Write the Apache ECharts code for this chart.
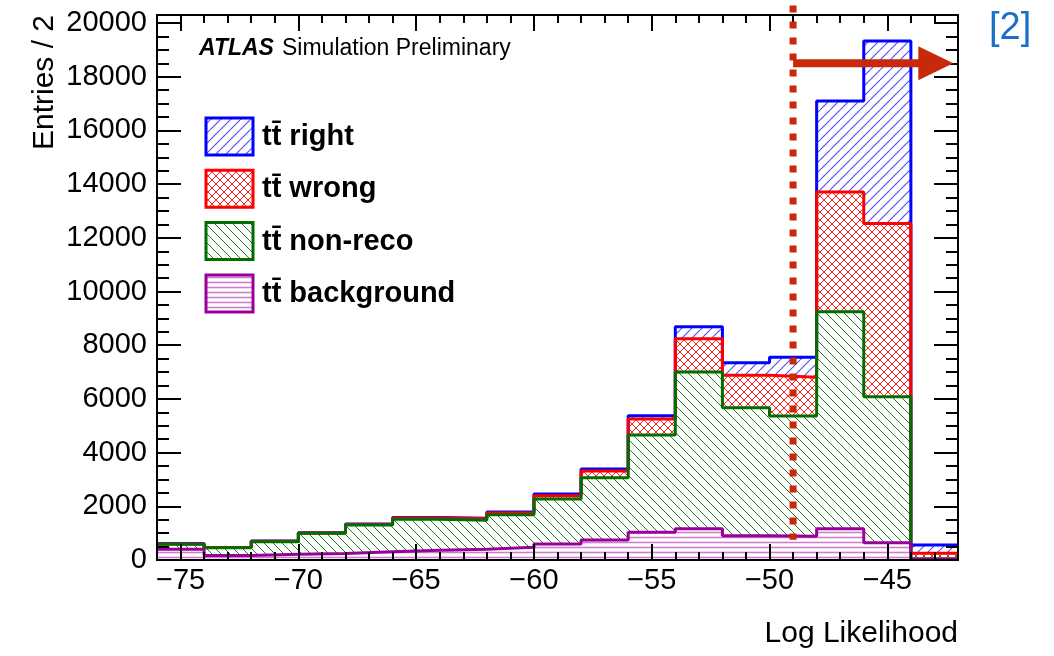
<!DOCTYPE html>
<html>
<head>
<meta charset="utf-8">
<script src="https://cdn.jsdelivr.net/npm/echarts@6/dist/echarts.min.js"></script>
<style>
  html, body { margin: 0; padding: 0; background: #fff; }
  #chart { width: 1054px; height: 656px; }
</style>
</head>
<body>
<div id="chart"></div>
<script>
  // bin edges of Log Likelihood (2 units wide)
  const binEdges = [-76, -74, -72, -70, -68, -66, -64, -62, -60, -58, -56, -54, -52, -50, -48, -46, -44, -42]
  // entries per bin, one array per stacked component
  const ttBackground = [400, 165, 215, 240, 310, 360, 405, 472, 595, 745, 1030, 1164, 904, 880, 1164, 644, 25]
  const ttNonReco = [184, 290, 466, 754, 993, 1158, 1075, 1214, 1675, 2315, 3625, 5837, 4768, 4483, 8083, 5437, 25]
  const ttWrong = [16, 10, 19, 11, 22, 47, 60, 64, 125, 254, 596, 1240, 1206, 1441, 4457, 6449, 200]
  const ttRight = [10, 5, 12, 10, 15, 15, 15, 40, 63, 75, 124, 447, 470, 744, 3389, 6798, 309]
  const legendNames = ['t\u0074\u0304 right', 't\u0074\u0304 wrong', 't\u0074\u0304 non-reco', 't\u0074\u0304 background']
  const cutValue = -49

  const fontFamily = 'Liberation Sans, Arial, sans-serif'

  function makeHatch(kind, color, size, lineWidth) {
    const c = document.createElement('canvas')
    c.width = size
    c.height = size
    const ctx = c.getContext('2d')
    ctx.fillStyle = '#fff'
    ctx.fillRect(0, 0, size, size)
    ctx.strokeStyle = color
    ctx.lineWidth = lineWidth
    ctx.beginPath()
    if (kind === '/' || kind === 'x') {
      for (let k = -size; k <= size; k += size) {
        ctx.moveTo(k, size)
        ctx.lineTo(k + size, 0)
      }
    }
    if (kind === '\\' || kind === 'x') {
      for (let k = -size; k <= size; k += size) {
        ctx.moveTo(k, 0)
        ctx.lineTo(k + size, size)
      }
    }
    if (kind === '-') {
      ctx.moveTo(0, size / 2)
      ctx.lineTo(size, size / 2)
    }
    ctx.stroke()
    return { image: c, repeat: 'repeat' }
  }

  // cumulative sums, like a THStack
  function addUp(a, b) {
    return a.map((v, i) => v + b[i])
  }
  const cumBackground = ttBackground
  const cumNonReco = addUp(cumBackground, ttNonReco)
  const cumWrong = addUp(cumNonReco, ttWrong)
  const cumRight = addUp(cumWrong, ttRight)

  function stepData(values) {
    const data = values.map((v, i) => [binEdges[i], v])
    data.push([binEdges[binEdges.length - 1], values[values.length - 1]])
    return data
  }

  const layers = [
    { name: legendNames[0], values: cumRight, line: '#0000ff', fill: makeHatch('/', '#4a4aff', 10, 1.1) },
    { name: legendNames[1], values: cumWrong, line: '#ff0000', fill: makeHatch('x', '#ff2020', 8, 1) },
    { name: legendNames[2], values: cumNonReco, line: '#006f00', fill: makeHatch('\\', '#1f7f1f', 9, 1) },
    { name: legendNames[3], values: cumBackground, line: '#990099', fill: makeHatch('-', '#cf7fcf', 5, 1.6) },
  ]

  const chart = echarts.init(document.getElementById('chart'))

  function xAxisDef(position, major) {
    return {
      type: 'value',
      position: position,
      min: -76,
      max: -42,
      interval: major ? undefined : 1,
      splitNumber: 7,
      z: 10,
      axisLine: { show: major, onZero: false, lineStyle: { color: '#000', width: 2 } },
      axisTick: { show: true, inside: true, length: major ? 16 : 8, lineStyle: { color: '#000', width: 2 } },
      axisLabel: {
        show: major && position === 'bottom',
        showMinLabel: false,
        showMaxLabel: false,
        margin: 6,
        color: '#000',
        fontSize: 29,
        fontFamily: fontFamily,
        formatter: v => (v < 0 ? '\u2212' + (-v) : '' + v),
      },
      splitLine: { show: false },
    }
  }

  function yAxisDef(position, major) {
    return {
      type: 'value',
      position: position,
      min: 0,
      max: 20300,
      interval: major ? 2000 : 500,
      z: 10,
      axisLine: { show: major, onZero: false, lineStyle: { color: '#000', width: 2 } },
      axisTick: { show: true, inside: true, length: major ? 24 : 12, lineStyle: { color: '#000', width: 2 } },
      axisLabel: {
        show: major && position === 'left',
        showMaxLabel: false,
        margin: 10,
        color: '#000',
        fontSize: 29,
        fontFamily: fontFamily,
        formatter: v => '' + v,
      },
      splitLine: { show: false },
    }
  }

  chart.setOption({
    animation: false,
    backgroundColor: '#fff',
    grid: { left: 157, right: 96, top: 15, bottom: 96 },
    xAxis: [xAxisDef('bottom', true), xAxisDef('bottom', false), xAxisDef('top', true), xAxisDef('top', false)],
    yAxis: [yAxisDef('left', true), yAxisDef('left', false), yAxisDef('right', true), yAxisDef('right', false)],
    series: layers.map(l => ({
      name: l.name,
      type: 'line',
      step: 'end',
      showSymbol: false,
      symbol: 'none',
      xAxisIndex: 0,
      yAxisIndex: 0,
      lineStyle: { color: l.line, width: 3 },
      itemStyle: { color: l.line },
      areaStyle: { color: l.fill, opacity: 1 },
      data: stepData(l.values),
    })),
  })

  // annotations: cut line, arrow, labels, legend
  const toPx = (x, y) => chart.convertToPixel({ gridIndex: 0 }, [x, y])
  const cutTop = toPx(cutValue, 20650)
  const cutBottom = toPx(cutValue, 750)
  const arrowStart = toPx(cutValue, 18500)
  const arrowTip = toPx(-42.2, 18500)
  const red = '#c8290b'

  const graphic = [
    {
      type: 'line', z: 100,
      shape: { x1: cutTop[0], y1: cutTop[1], x2: cutBottom[0], y2: cutBottom[1] },
      style: { stroke: red, lineWidth: 7, lineDash: [7, 9] },
    },
    {
      type: 'line', z: 100,
      shape: { x1: arrowStart[0], y1: arrowStart[1], x2: arrowTip[0] - 30, y2: arrowTip[1] },
      style: { stroke: red, lineWidth: 8 },
    },
    {
      type: 'polygon', z: 100,
      shape: { points: [[arrowTip[0] - 35, arrowTip[1] - 17], [arrowTip[0] - 35, arrowTip[1] + 17], [arrowTip[0], arrowTip[1]]] },
      style: { fill: red },
    },
    {
      type: 'text', z: 100, x: 199, y: 49,
      style: { text: 'ATLAS', font: 'italic bold 23px ' + fontFamily, fill: '#000', verticalAlign: 'middle' },
    },
    {
      type: 'text', z: 100, x: 282, y: 49,
      style: { text: 'Simulation Preliminary', font: '23px ' + fontFamily, fill: '#000', verticalAlign: 'middle' },
    },
    {
      type: 'text', z: 100, x: 989, y: 29,
      style: { text: '[2]', font: '38px ' + fontFamily, fill: '#1a70c8', verticalAlign: 'middle' },
    },
    {
      type: 'text', z: 100, x: 958, y: 634,
      style: { text: 'Log Likelihood', font: '30px ' + fontFamily, fill: '#000', align: 'right', verticalAlign: 'middle' },
    },
    {
      type: 'text', z: 100, x: 45, y: 15, rotation: Math.PI / 2,
      style: { text: 'Entries / 2', font: '30px ' + fontFamily, fill: '#000', align: 'right', verticalAlign: 'middle' },
    },
  ]

  layers.forEach((l, i) => {
    const top = 118 + i * 52.3
    graphic.push({
      type: 'rect', z: 100,
      shape: { x: 206, y: top, width: 47, height: 37 },
      style: { fill: l.fill, stroke: l.line, lineWidth: 3 },
    })
    graphic.push({
      type: 'text', z: 100, x: 262, y: top + 19,
      style: { text: l.name, font: 'bold 29px ' + fontFamily, fill: '#000', verticalAlign: 'middle' },
    })
  })

  chart.setOption({ graphic: graphic })
</script>
</body>
</html>
